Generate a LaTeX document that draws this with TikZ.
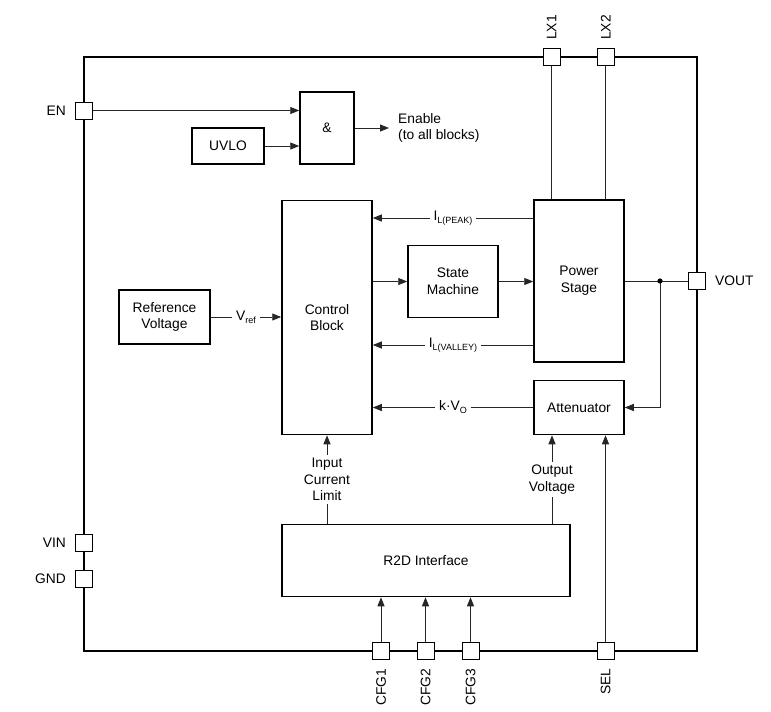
\documentclass[tikz,border=0pt]{standalone}
\usepackage{fontspec}
\setmainfont{Liberation Sans}
\usetikzlibrary{arrows.meta}
\newcommand{\lsub}[1]{\raisebox{-3pt}{\fontsize{9}{9}\selectfont #1}}
\begin{document}
\begin{tikzpicture}[x=1pt,y=-1pt,
  font=\fontsize{13.8}{16.8}\selectfont,
  blk/.style={draw,line width=1.5pt,fill=white,align=center,inner sep=0pt},
  pinbox/.style={draw,line width=1pt,fill=white,minimum size=17pt,inner sep=0pt},
  wire/.style={line width=0.9pt,draw=black!85},
  arr/.style={wire,-{Triangle[length=9pt,width=7pt]}},
  lbl/.style={fill=white,inner sep=4pt,align=center},
  plbl/.style={inner sep=0pt}]
\useasboundingbox (0,0) rectangle (771,712);

% chip outline
\node[draw,line width=1.6pt,minimum width=613pt,minimum height=594pt,inner sep=0pt] (chip) at (390.5,354) {};

% blocks
\node[blk,minimum width=54pt,minimum height=72pt] (and) at (327,128) {\&};
\node[blk,minimum width=72pt,minimum height=36pt] (uvlo) at (228,146) {UVLO};
\node[blk,minimum width=91pt,minimum height=54pt] (ref) at (164.5,317) {Reference\\Voltage};
\node[blk,minimum width=90pt,minimum height=234pt] (ctrl) at (327,317.5) {Control\\Block};
\node[blk,minimum width=90pt,minimum height=72pt] (sm) at (453,281.5) {State\\Machine};
\node[blk,minimum width=90pt,minimum height=162pt] (ps) at (579,281) {Power\\Stage};
\node[blk,minimum width=90pt,minimum height=54pt] (att) at (579,407.5) {Attenuator};
\node[blk,minimum width=288pt,minimum height=72pt] (r2d) at (426,560.5) {R2D Interface};

% helper coordinates
\coordinate (yPeak) at (0,218);
\coordinate (yValley) at (0,345);
\coordinate (xov) at (552,0);
\coordinate (dot) at (660,281);
\coordinate (enout) at (389,128);

% connectors (drawn before pins so pins sit on top)
\draw[wire] (ps.east) -- (697,281);
\draw[arr] (dot) |- (att.east);
\fill (dot) circle (2.6pt);

% pins
\node[pinbox] (EN) at (84,110.5) {};
\node[pinbox] (VIN) at (84,542.5) {};
\node[pinbox] (GND) at (84,578.5) {};
\node[pinbox] (LX1) at (551.7,57) {};
\node[pinbox] (LX2) at (605.7,57) {};
\node[pinbox] (VOUT) at (697,281) {};
\node[pinbox] (CFG1) at (381,650.5) {};
\node[pinbox] (CFG2) at (425.5,650.5) {};
\node[pinbox] (CFG3) at (470.5,650.5) {};
\node[pinbox] (SEL) at (605.5,650.5) {};

% pin labels
\node[plbl,anchor=east] (ENl) at ([xshift=-9pt]EN.west) {EN};
\node[plbl,anchor=east] (VINl) at ([xshift=-9pt]VIN.west) {VIN};
\node[plbl,anchor=east] (GNDl) at ([xshift=-9pt]GND.west) {GND};
\node[plbl,anchor=west] (VOUTl) at ([xshift=9pt]VOUT.east) {VOUT};
\node[plbl,anchor=west,rotate=90] (LX1l) at ([yshift=8pt]LX1.north) {LX1};
\node[plbl,anchor=west,rotate=90] (LX2l) at ([yshift=8pt]LX2.north) {LX2};
\node[plbl,anchor=east,rotate=90] (CFG1l) at ([yshift=-9pt]CFG1.south) {CFG1};
\node[plbl,anchor=east,rotate=90] (CFG2l) at ([yshift=-9pt]CFG2.south) {CFG2};
\node[plbl,anchor=east,rotate=90] (CFG3l) at ([yshift=-9pt]CFG3.south) {CFG3};
\node[plbl,anchor=east,rotate=90] (SELl) at ([yshift=-9pt]SEL.south) {SEL};

% enable logic
\draw[arr] (EN.east) -- (EN.east -| and.west);
\draw[arr] (uvlo.east) -- (uvlo.east -| and.west);
\draw[arr] (and.east) -- (enout);
\node[anchor=west,align=left,inner sep=0pt] (enable) at (398,128) {Enable\\(to all blocks)};

% LX connections
\draw[wire] (LX1.south) -- (LX1.south |- ps.north);
\draw[wire] (LX2.south) -- (LX2.south |- ps.north);

% signal paths
\draw[arr] (ps.west |- yPeak) -- node[lbl] {I\lsub{L(PEAK)}} (ctrl.east |- yPeak);
\draw[arr] (ctrl.east |- sm.west) -- (sm.west);
\draw[arr] (sm.east) -- (sm.east -| ps.west);
\draw[arr] (ps.west |- yValley) -- node[lbl] {I\lsub{L(VALLEY)}} (ctrl.east |- yValley);
\draw[arr] (att.west) -- node[lbl] {k·V\lsub{O}} (att.west -| ctrl.east);
\draw[arr] (ref.east) -- node[lbl] {V\lsub{ref}} (ref.east -| ctrl.west);

\draw[arr] (r2d.north -| ctrl.south) -- node[lbl,inner sep=3pt] {Input\\Current\\Limit} (ctrl.south);
\draw[arr] (r2d.north -| xov) -- node[lbl,inner sep=3pt] {Output\\Voltage} (att.south -| xov);
\draw[arr] (SEL.north) -- (SEL.north |- att.south);

\draw[arr] (CFG1.north) -- (CFG1.north |- r2d.south);
\draw[arr] (CFG2.north) -- (CFG2.north |- r2d.south);
\draw[arr] (CFG3.north) -- (CFG3.north |- r2d.south);
\end{tikzpicture}
\end{document}
